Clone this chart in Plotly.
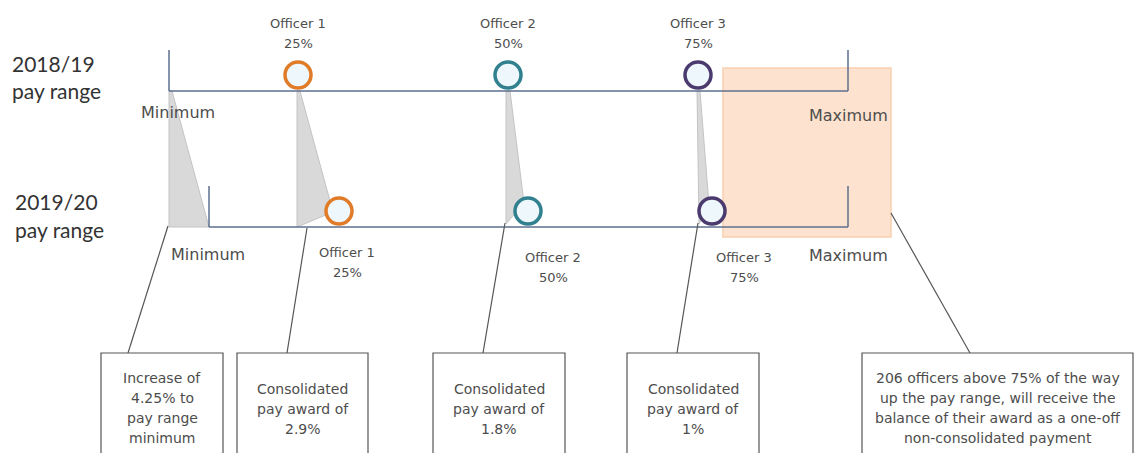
import plotly.graph_objects as go

# ---- content (text / values) ----
years = [["2018/19", "pay range"], ["2019/20", "pay range"]]
officers = ["Officer 1", "Officer 2", "Officer 3"]
officer_pct = ["25%", "50%", "75%"]
officer_colors = ["#E07B28", "#31808F", "#4A3A6E"]
box_texts = [
    ["Increase of", "4.25% to", "pay range", "minimum"],
    ["Consolidated", "pay award of", "2.9%"],
    ["Consolidated", "pay award of", "1.8%"],
    ["Consolidated", "pay award of", "1%"],
    ["206 officers above 75% of the way", "up the pay range, will receive the",
     "balance of their award as a one-off", "non-consolidated payment"],
]

# ---- layout geometry (diagram coordinates, pixel-like) ----
W, H = 1137, 453
top_y, bot_y = 91, 227
top_min_x, bot_min_x, max_x = 169, 209, 848
top_off_x = [298, 508, 698]
bot_off_x = [339, 528, 712]
top_circle_y, bot_circle_y = 75, 211
boxes_x = [(101, 223), (237, 368), (433, 565), (627, 759), (862, 1133)]
box_top = 353
callout_from = [(168, 226), (307, 228), (505, 223), (698, 223), (891, 213)]
callout_to = [(128, box_top), (287, box_top), (483, box_top), (677, box_top), (970, box_top)]

FONT = "DejaVu Sans, Liberation Sans, Arial"
TXT = "#4d4d4d"
LINE = "#5C6F8E"

shapes = []
# orange highlight box
shapes.append(dict(type="rect", x0=723, x1=891, y0=68, y1=237, layer="below",
                   fillcolor="#FDE3CF", line=dict(color="#F8D0B0", width=1.5)))
# gray wedges (movement from old to new)
wedges = [
    [(169, 91), (172, 91), (209, 227), (169, 227)],
    [(297, 91), (300, 91), (333, 212), (297, 227)],
    [(506, 91), (510, 91), (524, 203), (506, 224)],
    [(697, 91), (700, 91), (709, 205), (699, 224)],
]
for poly in wedges:
    p = "M " + " L ".join(f"{x},{y}" for x, y in poly) + " Z"
    shapes.append(dict(type="path", path=p, fillcolor="#D9D9D9",
                       line=dict(color="#C4C4C4", width=1), layer="below"))
# pay range lines
for y, xmin in [(top_y, top_min_x), (bot_y, bot_min_x)]:
    shapes.append(dict(type="line", x0=xmin, x1=max_x, y0=y, y1=y, line=dict(color=LINE, width=1.5)))
    shapes.append(dict(type="line", x0=xmin, x1=xmin, y0=y - 41, y1=y, line=dict(color=LINE, width=1.5)))
    shapes.append(dict(type="line", x0=max_x, x1=max_x, y0=y - 41, y1=y, line=dict(color=LINE, width=1.5)))
# callout lines and boxes
for (a, b), (c, d) in zip(callout_from, callout_to):
    shapes.append(dict(type="line", x0=a, y0=b, x1=c, y1=d, line=dict(color="#555555", width=1.2)))
for x0, x1 in boxes_x:
    shapes.append(dict(type="rect", x0=x0, x1=x1, y0=box_top, y1=H + 5,
                       fillcolor="white", line=dict(color="#555555", width=1.2)))

fig = go.Figure()
for xs, yc in [(top_off_x, top_circle_y), (bot_off_x, bot_circle_y)]:
    fig.add_trace(go.Scatter(
        x=xs, y=[yc] * 3, mode="markers", hoverinfo="skip", showlegend=False,
        marker=dict(size=26, color="#EEF7FC", line=dict(color=officer_colors, width=3.5)),
    ))

ann = []
def txt(x, y, s, size=12, color=TXT, anchor="center", family=FONT):
    ann.append(dict(x=x, y=y, text=s, showarrow=False, xanchor=anchor, yanchor="middle",
                    font=dict(family=family, size=size, color=color), align="center"))

def lines(x, y0, items, step, **kw):
    for k, s in enumerate(items):
        txt(x, y0 + k * step, s, **kw)

# year labels
lines(10, 63, years[0], 27, size=21, color="#333333", anchor="left", family="Lato, Liberation Sans")
lines(13, 201, years[1], 28, size=21, color="#333333", anchor="left", family="Lato, Liberation Sans")

# officer labels
for i in range(3):
    lines(top_off_x[i], 23, [officers[i], officer_pct[i]], 20, size=13)
bot_label_pos = [(347, 252), (553, 257), (744, 257)]
for i in range(3):
    lines(bot_label_pos[i][0], bot_label_pos[i][1], [officers[i], officer_pct[i]], 20, size=13)

txt(178, 112, "Minimum", size=16)
txt(848, 115, "Maximum", size=16)
txt(208, 254, "Minimum", size=16)
txt(848, 255, "Maximum", size=16)

for (x0, x1), items in zip(boxes_x, box_texts):
    y0 = 378 if len(items) == 4 else 389
    lines((x0 + x1) / 2, y0, items, 20, size=14)

fig.update_layout(
    width=W, height=H, margin=dict(l=0, r=0, t=0, b=0),
    paper_bgcolor="white", plot_bgcolor="white",
    xaxis=dict(range=[0, W], visible=False, fixedrange=True),
    yaxis=dict(range=[H, 0], visible=False, fixedrange=True),
    shapes=shapes, annotations=ann,
)
fig.write_html("out.html", config={"displayModeBar": False},
               post_script="document.body.style.margin='0px';")
